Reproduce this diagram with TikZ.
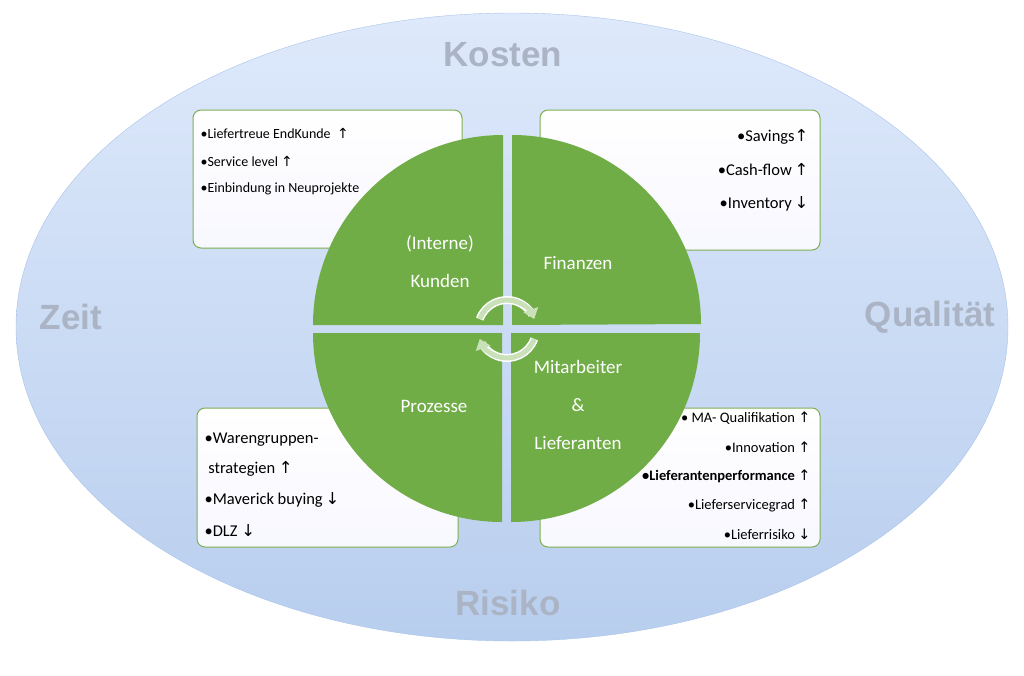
\documentclass[tikz,border=0pt]{standalone}
\usepackage{fontspec}
\setmainfont{Carlito}
\newfontfamily\arialb{Liberation Sans}[BoldFont={Liberation Sans Bold}]
\newfontfamily\djv{DejaVu Sans}
\usetikzlibrary{arrows.meta}
\definecolor{qgreen}{HTML}{70AD47}
\definecolor{bgreen}{HTML}{7DB050}
\definecolor{etop}{HTML}{DEE9FB}
\definecolor{ebot}{HTML}{B8CEEE}
\definecolor{eline}{HTML}{A9C3EA}
\definecolor{corner}{HTML}{ABB4C4}
\definecolor{arrowc}{HTML}{C9E0B8}
\newcommand{\up}{{\djv ↑}}
\newcommand{\dn}{{\djv ↓}}
\tikzset{
  infobox/.style={draw=bgreen, line width=1pt, rounded corners=8pt, top color=white, bottom color=blue!3, inner sep=0pt},
  cornertxt/.style={font=\arialb\bfseries\fontsize{35}{35}\selectfont, text=corner},
  quadtxt/.style={font=\fontsize{19}{38}\selectfont, text=white, align=center},
  itemtxt/.style={font=\fontsize{14}{30}\selectfont, anchor=west},
  ritemtxt/.style={font=\fontsize{14.5}{30}\selectfont, anchor=east},
  bigitem/.style={font=\fontsize{16.5}{20}\selectfont}
}
\begin{document}
\begin{tikzpicture}[x=1pt,y=-1pt]
\useasboundingbox (0,0) rectangle (1024,675);
\shade[top color=etop, bottom color=ebot, draw=eline] (512,327) ellipse [x radius=496pt, y radius=314pt];
\node[cornertxt] (kosten) at (503,55) {Kosten};
\node[cornertxt] (risiko) at (508,603) {Risiko};
\node[cornertxt] (zeit) at (71,317) {Zeit};
\node[cornertxt] (qual) at (930,317) {Qualität};
% boxes
\node[infobox, minimum width=269pt, minimum height=138pt] (b1) at (327.5,179) {};
\node[infobox, minimum width=280pt, minimum height=140pt] (b2) at (680,180) {};
\node[infobox, minimum width=261pt, minimum height=139pt] (b3) at (327.5,477.5) {};
\node[infobox, minimum width=280pt, minimum height=139pt] (b4) at (680,477.5) {};
\node[itemtxt] (t1a) at (197,133) {•Liefertreue EndKunde~~\up};
\node[itemtxt] (t1b) at (197,161) {•Service level \up};
\node[itemtxt] (t1c) at (197,189) {•Einbindung in Neuprojekte};
\node[ritemtxt, bigitem] (t2a) at (812,137) {•Savings\up};
\node[ritemtxt, bigitem] (t2b) at (812,170) {•Cash-flow\,\up};
\node[ritemtxt, bigitem] (t2c) at (812,204) {•Inventory\,\dn};
\node[itemtxt, bigitem] (t3a) at (201,440) {•Warengruppen-};
\node[itemtxt, bigitem] (t3b) at (201,469) {~strategien \up};
\node[itemtxt, bigitem] (t3c) at (201,500) {•Maverick buying\,\dn};
\node[itemtxt, bigitem] (t3d) at (201,531) {•DLZ \dn};
\node[ritemtxt] (t4a) at (814,418) {• MA- Qualifikation \up};
\node[ritemtxt] (t4b) at (814,447) {•Innovation \up};
\node[ritemtxt] (t4c) at (814,476) {\textbf{•Lieferantenperformance} \up};
\node[ritemtxt] (t4d) at (814,505) {•Lieferservicegrad \up};
\node[ritemtxt] (t4e) at (814,534) {•Lieferrisiko \dn};
% quadrants
\fill[qgreen] (503,325) -- (313,325) arc[start angle=180, end angle=90, radius=190pt] -- cycle;
\fill[qgreen] (512,325) -- (512,135) arc[start angle=90, end angle=0, radius=189pt] -- cycle;
\fill[qgreen] (502,333) -- (502,522) arc[start angle=270, end angle=180, radius=189pt] -- cycle;
\fill[qgreen] (511,333) -- (700,333) arc[start angle=0, end angle=-90, radius=189pt] -- cycle;
\node[quadtxt] (q1) at (440,262) {(Interne)\\Kunden};
\node[quadtxt] (q2) at (578,263) {Finanzen};
\node[quadtxt] (q3) at (434,406) {Prozesse};
\node[quadtxt] (q4) at (578,405) {Mitarbeiter\\\&\\Lieferanten};
% cycle arrows
\coordinate (cc) at (507,329);
\draw[white, line width=8pt] ([shift={(160:29pt)}]cc) arc[start angle=160, end angle=30, radius=29pt];
\draw[arrowc, line width=5pt, -{Triangle[length=10pt,width=15pt]}] ([shift={(160:29pt)}]cc) arc[start angle=160, end angle=20, radius=29pt];
\draw[white, line width=8pt] ([shift={(-20:29pt)}]cc) arc[start angle=-20, end angle=-150, radius=29pt];
\draw[arrowc, line width=5pt, -{Triangle[length=10pt,width=15pt]}] ([shift={(-20:29pt)}]cc) arc[start angle=-20, end angle=-160, radius=29pt];
\end{tikzpicture}
\end{document}
